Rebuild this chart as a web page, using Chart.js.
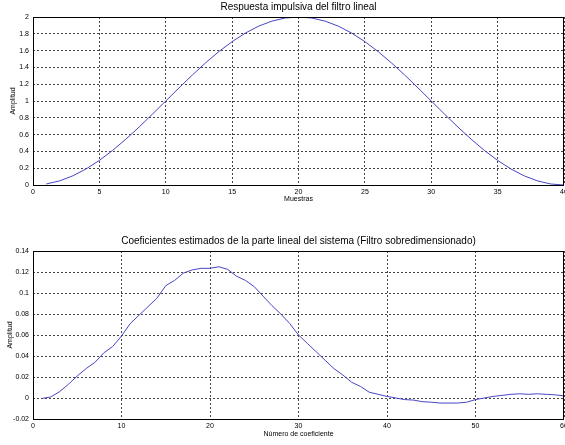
<!DOCTYPE html>
<html lang="es">
<head>
<meta charset="UTF-8">
<title>Respuesta impulsiva y coeficientes estimados</title>
<script src="https://cdn.jsdelivr.net/npm/chart.js"></script>
<style>
  html, body { margin: 0; padding: 0; background: #fff; overflow: hidden; width: 565px; height: 445px; }
  canvas { position: absolute; left: 0; }
  #top { top: 0; }
  #bottom { top: 225px; }
</style>
</head>
<body>
<canvas id="top" width="575" height="210"></canvas>
<canvas id="bottom" width="575" height="220"></canvas>
<script>
// Respuesta impulsiva del filtro lineal (muestras 1..40)
const muestras = [1,2,3,4,5,6,7,8,9,10,11,12,13,14,15,16,17,18,19,20,
  21,22,23,24,25,26,27,28,29,30,31,32,33,34,35,36,37,38,39,40];
const respuesta = [0.012,0.049,0.109,0.191,0.293,0.412,0.546,0.691,0.844,1.0,
  1.156,1.309,1.454,1.588,1.707,1.809,1.891,1.951,1.988,2.0,
  1.988,1.951,1.891,1.809,1.707,1.588,1.454,1.309,1.156,1.0,
  0.844,0.691,0.546,0.412,0.293,0.191,0.109,0.049,0.012,0.0];

// Coeficientes estimados (coeficientes 1..60)
const coefIdx = [1,2,3,4,5,6,7,8,9,10,11,12,13,14,15,16,17,18,19,20,
  21,22,23,24,25,26,27,28,29,30,31,32,33,34,35,36,37,38,39,40,
  41,42,43,44,45,46,47,48,49,50,51,52,53,54,55,56,57,58,59,60];
const coeficientes = [-0.0005,0.001,0.006,0.013,0.021,0.028,0.034,0.043,0.049,0.059,
  0.071,0.079,0.087,0.095,0.107,0.112,0.119,0.122,0.1235,0.1235,
  0.125,0.1225,0.116,0.112,0.106,0.097,0.088,0.080,0.071,0.060,
  0.052,0.044,0.036,0.028,0.022,0.015,0.011,0.0055,0.0035,0.0015,
  0.0,-0.0015,-0.002,-0.0035,-0.004,-0.0048,-0.0048,-0.0048,-0.004,-0.0015,
  0.0,0.0015,0.0025,0.0035,0.004,0.0035,0.004,0.0035,0.003,0.002];

// tick labels
const topXTicks = [0,5,10,15,20,25,30,35,40];
const topYTicks = [0,0.2,0.4,0.6,0.8,1,1.2,1.4,1.6,1.8,2];
const botXTicks = [0,10,20,30,40,50,60];
const botYTicks = [-0.02,0,0.02,0.04,0.06,0.08,0.1,0.12,0.14];

const FONT = "'Liberation Sans', Arial, sans-serif";
const LINE_COLOR = '#4646c4';

// black box round the plot area, and the title centred over the axes (matlab style)
const framePlugin = {
  id: 'frame',
  afterDraw(chart, args, o) {
    const a = chart.chartArea, ctx = chart.ctx;
    ctx.save();
    ctx.strokeStyle = '#000';
    ctx.lineWidth = 1;
    ctx.strokeRect(Math.round(a.left) + 0.5, Math.round(a.top) + 0.5,
      Math.round(a.right - a.left) - 1, Math.round(a.bottom - a.top));
    ctx.fillStyle = '#000';
    ctx.font = '10px ' + FONT;
    ctx.textAlign = 'center';
    ctx.textBaseline = 'middle';
    ctx.fillText(o.text, (a.left + a.right) / 2, a.top - o.gap);
    ctx.restore();
  }
};

function makeChart(id, xs, ys, opts) {
  const grid = { color: '#444', lineWidth: 1, drawTicks: false };
  // in v4 the grid line dash lives under border.dash
  const border = { display: false, dash: [2, 2] };
  return new Chart(document.getElementById(id), {
    type: 'line',
    data: {
      datasets: [{
        data: xs.map((x, i) => ({ x: x, y: ys[i] })),
        borderColor: LINE_COLOR,
        borderWidth: 1,
        pointRadius: 0,
        tension: 0,
        fill: false
      }]
    },
    options: {
      responsive: false,
      devicePixelRatio: 1,
      animation: false,
      layout: { padding: { left: 0, right: 11, top: opts.padTop, bottom: 0 } },
      plugins: {
        legend: { display: false },
        tooltip: { enabled: false },
        title: { display: false },
        frame: { text: opts.title, gap: 10 }
      },
      scales: {
        x: {
          type: 'linear',
          min: opts.xTicks[0],
          max: opts.xTicks[opts.xTicks.length - 1],
          afterBuildTicks: s => { s.ticks = opts.xTicks.map(v => ({ value: v })); },
          afterFit: s => { s.height = opts.xHeight; },
          grid: grid,
          border: border,
          ticks: { color: '#000', font: { family: FONT, size: 7 }, padding: 3, maxRotation: 0,
            callback: v => String(v) },
          title: { display: true, text: opts.xLabel, color: '#000',
            font: { family: FONT, size: 7 }, padding: { top: 0, bottom: 6.8 } }
        },
        y: {
          type: 'linear',
          min: opts.yTicks[0],
          max: opts.yTicks[opts.yTicks.length - 1],
          afterBuildTicks: s => { s.ticks = opts.yTicks.map(v => ({ value: v })); },
          afterFit: s => { s.width = 33; },
          grid: grid,
          border: border,
          ticks: { color: '#000', font: { family: FONT, size: 7 }, padding: 4,
            callback: v => String(v) },
          title: { display: true, text: 'Amplitud', color: '#000',
            font: { family: FONT, size: 7 }, padding: { top: opts.yTitlePad, bottom: 0 } }
        }
      }
    },
    plugins: [framePlugin]
  });
}

makeChart('top', muestras, respuesta, {
  title: 'Respuesta impulsiva del filtro lineal',
  padTop: 17,
  xTicks: topXTicks, yTicks: topYTicks,
  xHeight: 25, xLabel: 'Muestras', yTitlePad: 8.8
});

makeChart('bottom', coefIdx, coeficientes, {
  title: 'Coeficientes estimados de la parte lineal del sistema (Filtro sobredimensionado)',
  padTop: 26,
  xTicks: botXTicks, yTicks: botYTicks,
  xHeight: 26, xLabel: 'Número de coeficiente', yTitlePad: 5.8
});
</script>
</body>
</html>
